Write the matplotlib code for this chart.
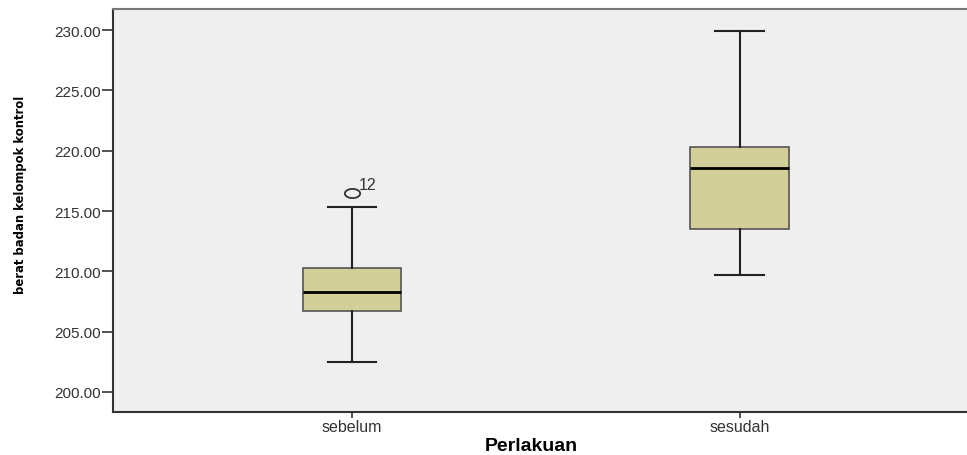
import matplotlib
matplotlib.use("Agg")
import matplotlib.pyplot as plt
from matplotlib.path import Path
import numpy as np

# Five-number summaries per treatment group
categories = ["sebelum", "sesudah"]
whisker_low = [202.5, 209.7]
q1 = [206.7, 213.5]
median = [208.3, 218.6]
q3 = [210.3, 220.3]
whisker_high = [215.3, 229.9]
outliers = [[216.5], []]
outlier_ids = [["12"], []]
yticks = [200, 205, 210, 215, 220, 225, 230]

W, H = 967, 456
fig = plt.figure(figsize=(W / 100, H / 100), dpi=100)
ax = fig.add_axes([113 / W, 1 - 413 / H, (W + 5 - 113) / W, (413 - 10) / H])
ax.set_facecolor("#efefef")

stats = []
for i, name in enumerate(categories):
    stats.append(dict(label=name, whislo=whisker_low[i], q1=q1[i], med=median[i],
                      q3=q3[i], whishi=whisker_high[i], fliers=outliers[i]))

# flattened ring used for outlier markers
t = np.linspace(0, 2 * np.pi, 60)
ring = Path(np.column_stack([np.cos(t), 0.6 * np.sin(t)]), closed=True)

positions = list(range(len(categories)))
ax.bxp(stats, positions=positions, widths=0.255, patch_artist=True,
       boxprops=dict(facecolor="#d3cf98", edgecolor="#555555", linewidth=1.2),
       medianprops=dict(color="black", linewidth=2),
       whiskerprops=dict(color="#222222", linewidth=1.5),
       capprops=dict(color="#222222", linewidth=1.5),
       capwidths=0.125,
       flierprops=dict(marker=ring, markerfacecolor="none", markeredgecolor="#333333",
                       markersize=11, markeredgewidth=1.3, linestyle="none"))

for i, ids in enumerate(outlier_ids):
    for val, lab in zip(outliers[i], ids):
        ax.annotate(lab, (positions[i], val), xytext=(5, 3), textcoords="offset points",
                    fontsize=11.5, color="#333333", family="Liberation Sans")

ax.set_xlim(-0.617, 1.6)
ax.set_ylim(198.34, 231.75)
ax.set_yticks(yticks)
ax.set_yticklabels([f"{v:.2f}" for v in yticks],
                   family="Liberation Sans", fontsize=11, color="#333333")
ax.set_xticks(positions)
ax.set_xticklabels(categories, family="Liberation Sans", fontsize=11.5, color="#333333")
ax.tick_params(axis="y", length=8, width=1.2, color="#333333", pad=1)
ax.tick_params(axis="x", length=4, width=1.2, color="#333333", pad=1)

for s in ["left", "bottom"]:
    ax.spines[s].set_color("#333333")
    ax.spines[s].set_linewidth(1.5)
ax.spines["top"].set_color("#777777")
ax.spines["top"].set_linewidth(1.5)
ax.spines["right"].set_visible(False)

# axis titles placed in figure pixels
fig.text(531 / W, 1 - 451 / H, "Perlakuan", family="Liberation Sans", fontsize=14,
         fontweight="bold", ha="center", va="baseline")
fig.text(21 / W, 1 - 195 / H, "berat badan kelompok kontrol", family="DejaVu Sans",
         fontstretch="condensed", fontsize=9.3, fontweight="bold",
         rotation=90, ha="center", va="center")

fig.savefig("out.png", dpi=100)
